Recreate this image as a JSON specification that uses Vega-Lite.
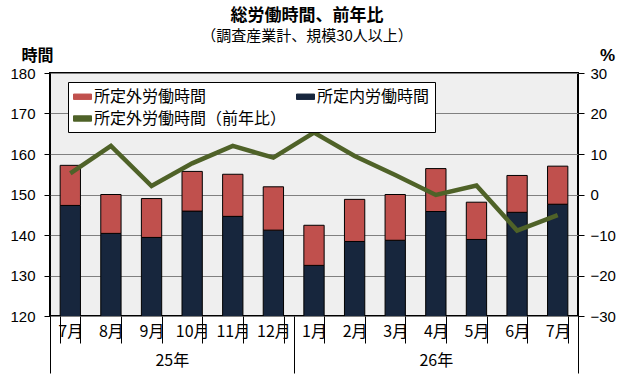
{
  "$schema": "https://vega.github.io/schema/vega-lite/v6.json",
  "width": 528,
  "height": 243,
  "autosize": {"type": "none"},
  "padding": {"left": 50, "top": 73, "right": 52, "bottom": 64},
  "background": "white",
  "title": {
    "text": "総労働時間、前年比",
    "subtitle": "（調査産業計、規模30人以上）",
    "anchor": "middle",
    "frame": "group",
    "dx": -7,
    "font": "Noto Sans CJK JP",
    "fontSize": 17,
    "fontWeight": "bold",
    "color": "black",
    "subtitleFont": "Noto Sans CJK JP",
    "subtitleFontSize": 15,
    "subtitleColor": "black",
    "subtitlePadding": 4,
    "offset": 1
  },
  "config": {
    "view": {"fill": "#efefef", "stroke": "black", "strokeWidth": 2},
    "legend": {
      "orient": "none",
      "direction": "horizontal",
      "legendX": 18,
      "legendY": 9,
      "columns": 2,
      "gridAlign": "all",
      "columnPadding": 7,
      "rowPadding": 4,
      "padding": 5,
      "fillColor": "white",
      "strokeColor": "black",
      "labelFont": "Noto Sans CJK JP",
      "labelFontSize": 16,
      "labelColor": "black",
      "labelOffset": 2,
      "symbolSize": 324,
      "labelLimit": 400
    }
  },
  "datasets": {
    "bars": [
      {"key": "25-07", "type": "所定内労働時間", "hours": 147.3, "ord": 0},
      {"key": "25-07", "type": "所定外労働時間", "hours": 9.9, "ord": 1},
      {"key": "25-08", "type": "所定内労働時間", "hours": 140.4, "ord": 0},
      {"key": "25-08", "type": "所定外労働時間", "hours": 9.6, "ord": 1},
      {"key": "25-09", "type": "所定内労働時間", "hours": 139.4, "ord": 0},
      {"key": "25-09", "type": "所定外労働時間", "hours": 9.6, "ord": 1},
      {"key": "25-10", "type": "所定内労働時間", "hours": 145.9, "ord": 0},
      {"key": "25-10", "type": "所定外労働時間", "hours": 9.8, "ord": 1},
      {"key": "25-11", "type": "所定内労働時間", "hours": 144.6, "ord": 0},
      {"key": "25-11", "type": "所定外労働時間", "hours": 10.4, "ord": 1},
      {"key": "25-12", "type": "所定内労働時間", "hours": 141.2, "ord": 0},
      {"key": "25-12", "type": "所定外労働時間", "hours": 10.7, "ord": 1},
      {"key": "26-01", "type": "所定内労働時間", "hours": 132.5, "ord": 0},
      {"key": "26-01", "type": "所定外労働時間", "hours": 9.9, "ord": 1},
      {"key": "26-02", "type": "所定内労働時間", "hours": 138.4, "ord": 0},
      {"key": "26-02", "type": "所定外労働時間", "hours": 10.4, "ord": 1},
      {"key": "26-03", "type": "所定内労働時間", "hours": 138.7, "ord": 0},
      {"key": "26-03", "type": "所定外労働時間", "hours": 11.3, "ord": 1},
      {"key": "26-04", "type": "所定内労働時間", "hours": 145.8, "ord": 0},
      {"key": "26-04", "type": "所定外労働時間", "hours": 10.6, "ord": 1},
      {"key": "26-05", "type": "所定内労働時間", "hours": 138.9, "ord": 0},
      {"key": "26-05", "type": "所定外労働時間", "hours": 9.2, "ord": 1},
      {"key": "26-06", "type": "所定内労働時間", "hours": 145.6, "ord": 0},
      {"key": "26-06", "type": "所定外労働時間", "hours": 9.1, "ord": 1},
      {"key": "26-07", "type": "所定内労働時間", "hours": 147.6, "ord": 0},
      {"key": "26-07", "type": "所定外労働時間", "hours": 9.4, "ord": 1}
    ],
    "line": [
      {"key": "25-07", "pct": 5.2},
      {"key": "25-08", "pct": 12.0},
      {"key": "25-09", "pct": 2.1},
      {"key": "25-10", "pct": 7.7},
      {"key": "25-11", "pct": 12.0},
      {"key": "25-12", "pct": 9.1},
      {"key": "26-01", "pct": 15.3},
      {"key": "26-02", "pct": 9.5},
      {"key": "26-03", "pct": 4.8},
      {"key": "26-04", "pct": -0.1},
      {"key": "26-05", "pct": 2.2},
      {"key": "26-06", "pct": -8.9},
      {"key": "26-07", "pct": -5.1}
    ],
    "yearTicks": [{"p": 0}, {"p": 13}]
  },
  "layer": [
    {
      "layer": [
        {
          "data": {"name": "bars"},
          "mark": {"type": "bar", "stroke": "black", "strokeWidth": 1, "clip": true},
          "encoding": {
            "x": {
              "field": "key",
              "type": "nominal",
              "scale": {"paddingInner": 0.5, "paddingOuter": 0.25},
              "axis": {
                "orient": "bottom",
                "title": null,
                "labelExpr": "isString(datum.value) ? toNumber(slice(datum.value, 3)) + '月' : ''",
                "labelAngle": 0,
                "labelFont": "Noto Sans CJK JP",
                "labelFontSize": 16,
                "labelColor": "black",
                "tickBand": "extent",
                "tickSize": 27,
                "tickColor": "black",
                "tickWidth": 1,
                "labelPadding": -20,
                "domain": false,
                "grid": false
              }
            },
            "y": {
              "field": "hours",
              "type": "quantitative",
              "stack": "zero",
              "scale": {"domain": [120, 180], "zero": false, "nice": false},
              "axis": {
                "orient": "left",
                "values": [120, 130, 140, 150, 160, 170, 180],
                "grid": true,
                "gridColor": "#808080",
                "gridWidth": 1,
                "domain": false,
                "tickSize": 6,
                "tickColor": "black",
                "labelFont": "Liberation Sans",
                "labelFontSize": 15,
                "labelColor": "black",
                "labelPadding": 9,
                "title": "時間",
                "titleAngle": 0,
                "titleX": -13,
                "titleY": -18,
                "titleAlign": "center",
                "titleBaseline": "middle",
                "titleFont": "Noto Sans CJK JP",
                "titleFontSize": 16,
                "titleFontWeight": "bold",
                "titleColor": "black"
              }
            },
            "color": {
              "field": "type",
              "type": "nominal",
              "scale": {
                "domain": ["所定外労働時間", "所定内労働時間", "所定外労働時間（前年比）"],
                "range": ["#c0504d", "#17263d", "#4f6228"]
              },
              "legend": {
                "title": null,
                "symbolType": "M-1,-0.3H1V0.3H-1Z",
                "symbolStrokeColor": "black",
                "symbolStrokeWidth": 1,
                "symbolOpacity": 1
              }
            },
            "order": {"field": "ord", "type": "quantitative"}
          }
        },
        {
          "data": {"name": "line"},
          "mark": {"type": "line", "strokeWidth": 4.5},
          "encoding": {
            "x": {"field": "key", "type": "nominal"},
            "y": {
              "field": "pct",
              "type": "quantitative",
              "scale": {"domain": [-30, 30], "nice": false},
              "axis": {
                "orient": "right",
                "values": [-30, -20, -10, 0, 10, 20, 30],
                "grid": false,
                "domain": false,
                "tickSize": 6,
                "tickColor": "black",
                "labelFont": "Liberation Sans",
                "labelFontSize": 15,
                "labelColor": "black",
                "labelPadding": 6,
                "title": "%",
                "titleAngle": 0,
                "titleX": 29,
                "titleY": -18,
                "titleAlign": "center",
                "titleBaseline": "middle",
                "titleFont": "Liberation Sans",
                "titleFontSize": 17,
                "titleFontWeight": "bold",
                "titleColor": "black"
              }
            },
            "color": {"datum": "所定外労働時間（前年比）", "type": "nominal"}
          }
        }
      ],
      "resolve": {"scale": {"y": "independent"}}
    },
    {
      "data": {"name": "yearTicks"},
      "mark": {"type": "rule", "opacity": 0},
      "encoding": {
        "x": {
          "field": "p",
          "type": "quantitative",
          "scale": {"domain": [0, 13], "nice": false, "zero": false},
          "axis": {
            "orient": "bottom",
            "title": null,
            "values": [0, 6, 13],
            "labels": false,
            "tickSize": 57,
            "tickColor": "black",
            "tickWidth": 1,
            "domain": false,
            "grid": false
          }
        }
      }
    },
    {
      "data": {"name": "yearTicks"},
      "mark": {"type": "rule", "opacity": 0},
      "encoding": {
        "x": {
          "field": "p",
          "type": "quantitative",
          "scale": {"domain": [0, 13], "nice": false, "zero": false},
          "axis": {
            "orient": "bottom",
            "title": null,
            "values": [3, 9.5],
            "labelExpr": "datum.value < 6 ? '25年' : '26年'",
            "labelFont": "Noto Sans CJK JP",
            "labelFontSize": 16,
            "labelColor": "black",
            "ticks": false,
            "labelPadding": 36,
            "domain": false,
            "grid": false
          }
        }
      }
    }
  ],
  "resolve": {"scale": {"x": "independent", "y": "independent"}}
}
